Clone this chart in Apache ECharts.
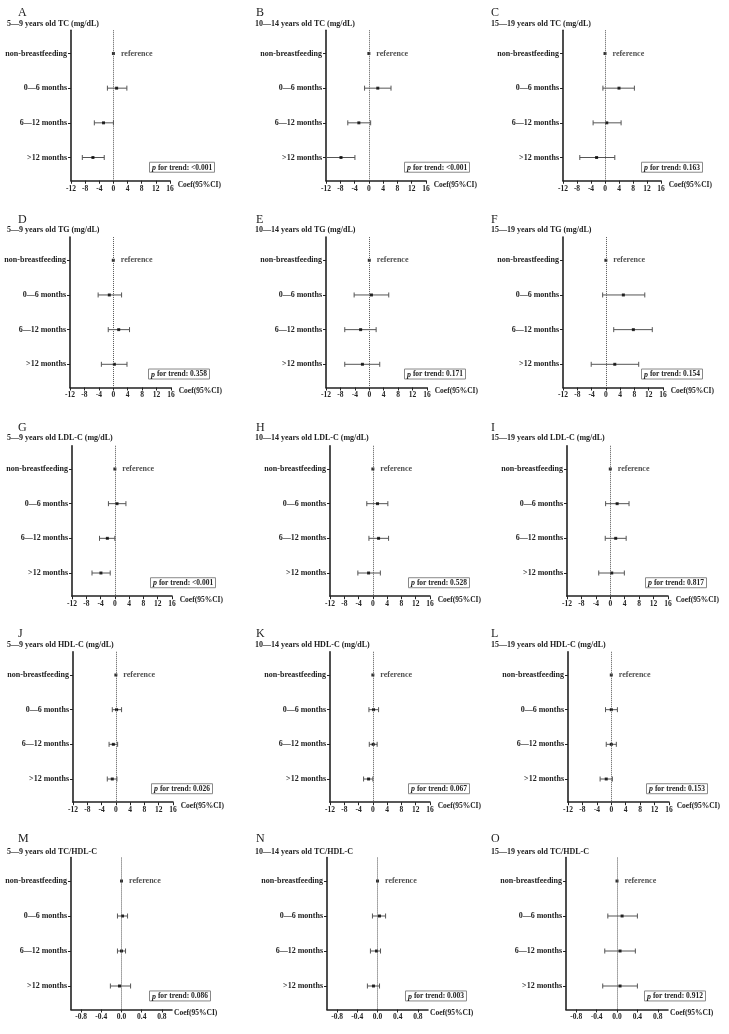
<!DOCTYPE html>
<html>
<head>
<meta charset="utf-8">
<script src="https://cdn.jsdelivr.net/npm/echarts@6/dist/echarts.min.js"></script>
<style>
  html, body { margin: 0; background: #fff; }
  #chart { width: 729px; height: 1034px; }
</style>
</head>
<body>
<div id="chart"></div>
<script>
// categories (top to bottom)
const groups = ['non-breastfeeding', '0\u20146 months', '6\u201412 months', '>12 months'];
const ages = ['5\u20149', '10\u201414', '15\u201419'];
const outcomes = ['TC (mg/dL)', 'TG (mg/dL)', 'LDL-C (mg/dL)', 'HDL-C (mg/dL)', 'TC/HDL-C'];
const letters = ['A', 'B', 'C', 'D', 'E', 'F', 'G', 'H', 'I', 'J', 'K', 'L', 'M', 'N', 'O'];

// [coef, lower, upper] for 0-6, 6-12, >12 months (non-breastfeeding = reference 0)
const tc5_9 = [[0.9, -1.7, 3.8], [-2.8, -5.4, 0.0], [-5.8, -8.8, -2.6]];
const tc10_14 = [[2.5, -1.2, 6.2], [-2.8, -5.9, 0.5], [-7.8, -11.9, -3.9]];
const tc15_19 = [[4.0, -0.6, 8.4], [0.5, -3.4, 4.6], [-2.4, -7.2, 2.8]];
const tg5_9 = [[-1.1, -4.2, 2.3], [1.5, -1.4, 4.5], [0.3, -3.3, 3.8]];
const tg10_14 = [[0.6, -4.2, 5.4], [-2.4, -6.8, 1.9], [-1.9, -6.8, 2.9]];
const tg15_19 = [[4.9, -0.9, 10.9], [7.7, 2.2, 13.0], [2.5, -4.1, 9.2]];
const ldl5_9 = [[0.6, -1.8, 3.1], [-2.1, -4.3, 0.0], [-3.9, -6.4, -1.3]];
const ldl10_14 = [[1.3, -1.7, 4.2], [1.6, -1.1, 4.4], [-1.2, -4.2, 2.1]];
const ldl15_19 = [[1.9, -1.3, 5.2], [1.5, -1.4, 4.4], [0.4, -3.2, 3.9]];
const hdl5_9 = [[0.2, -1.0, 1.6], [-0.7, -1.9, 0.5], [-1.0, -2.4, 0.3]];
const hdl10_14 = [[0.2, -1.1, 1.6], [0.1, -1.0, 1.2], [-1.2, -2.6, 0.0]];
const hdl15_19 = [[0.0, -1.6, 1.7], [0.0, -1.4, 1.4], [-1.4, -3.1, 0.3]];
const ratio5_9 = [[0.02, -0.08, 0.12], [0.0, -0.08, 0.08], [-0.04, -0.22, 0.18]];
const ratio10_14 = [[0.04, -0.1, 0.16], [-0.02, -0.14, 0.06], [-0.08, -0.2, 0.04]];
const ratio15_19 = [[0.1, -0.18, 0.4], [0.06, -0.24, 0.36], [0.06, -0.28, 0.4]];

const pTrend = ['<0.001', '<0.001', '0.163', '0.358', '0.171', '0.154', '<0.001', '0.528', '0.817',
  '0.026', '0.067', '0.153', '0.086', '0.003', '0.912'];

// x axis ticks
const mgTicks = [-12, -8, -4, 0, 4, 8, 12, 16];
const ratioTicks = [-0.8, -0.4, 0, 0.4, 0.8];

const panels = [tc5_9, tc10_14, tc15_19, tg5_9, tg10_14, tg15_19, ldl5_9, ldl10_14, ldl15_19,
  hdl5_9, hdl10_14, hdl15_19, ratio5_9, ratio10_14, ratio15_19];

// layout (px)
const axisLeft = [[71, 326, 563], [70, 326, 563], [72, 330, 567], [73, 330, 568], [71, 327, 566]];
const axisRight = [[170, 426, 661], [171, 427, 663], [172, 430, 668], [173, 430, 669], [172, 428, 668]];
const rowFirst = [53.5, 260.3, 469, 675, 881];
const rowLast = [157.5, 364.3, 573, 779, 986];
const letterX = [18, 256, 491];
const letterY = [7, 214, 422, 628, 833];
const headX = [7, 255, 491];
const headY = [20, 226, 434, 641, 848];

const FONT = 'Liberation Serif';
const INK = '#222';
const Y_MIN = 0.33, Y_MAX = 4.67;

const grid = [], xAxis = [], yAxis = [], series = [], title = [];

function renderBar(params, api) {
  const pos = api.value(0);
  const a = api.coord([api.value(1), pos]);
  const b = api.coord([api.value(2), pos]);
  const style = { stroke: '#555', lineWidth: 1 };
  const c = 2.5;
  return {
    type: 'group',
    children: [
      { type: 'line', shape: { x1: a[0], y1: a[1], x2: b[0], y2: b[1] }, style },
      { type: 'line', shape: { x1: a[0], y1: a[1] - c, x2: a[0], y2: a[1] + c }, style },
      { type: 'line', shape: { x1: b[0], y1: b[1] - c, x2: b[0], y2: b[1] + c }, style }
    ]
  };
}

panels.forEach((rows, i) => {
  const r = Math.floor(i / 3), c = i % 3;
  const unit = (rowLast[r] - rowFirst[r]) / 3;
  const top = rowFirst[r] - (1 - Y_MIN) * unit;
  const height = (Y_MAX - Y_MIN) * unit;
  const left = axisLeft[r][c];
  const width = axisRight[r][c] - left;
  const isRatio = r === 4;

  grid.push({ left, top, width, height, containLabel: false, outerBoundsMode: 'none' });

  xAxis.push({
    gridIndex: i, type: 'value',
    min: isRatio ? -1 : -12, max: isRatio ? 1 : 16,
    splitLine: { show: false },
    axisLine: { onZero: false, lineStyle: { color: INK, width: 1.6 } },
    axisTick: { length: 3, lineStyle: { color: INK }, customValues: isRatio ? ratioTicks : mgTicks },
    axisLabel: {
      customValues: isRatio ? ratioTicks : mgTicks,
      formatter: v => isRatio ? v.toFixed(1) : String(v),
      fontFamily: FONT, fontWeight: 'bold', fontSize: 7.5, color: INK, margin: 4
    },
    name: 'Coef(95%CI)', nameLocation: 'end', nameGap: 2,
    nameTextStyle: { fontFamily: FONT, fontWeight: 'bold', fontSize: 7.5, color: INK, align: 'left', verticalAlign: 'top' }
  });

  yAxis.push({
    gridIndex: i, type: 'value', inverse: true, min: Y_MIN, max: Y_MAX,
    splitLine: { show: false },
    axisLine: { show: true, onZero: false, lineStyle: { color: INK, width: 1.6 } },
    axisTick: { show: true, length: 3, lineStyle: { color: INK }, customValues: [1, 2, 3, 4] },
    axisLabel: {
      customValues: [1, 2, 3, 4],
      formatter: v => groups[Math.round(v) - 1],
      fontFamily: FONT, fontWeight: 'bold', fontSize: 8, color: INK, margin: 4
    }
  });

  series.push({
    type: 'custom', xAxisIndex: i, yAxisIndex: i, silent: true,
    renderItem: renderBar,
    encode: { x: [1, 2], y: 0 },
    data: rows.map((d, k) => [k + 2, d[1], d[2]])
  });

  series.push({
    type: 'scatter', xAxisIndex: i, yAxisIndex: i, silent: true,
    symbol: 'rect', symbolSize: 3, itemStyle: { color: '#000' },
    data: [
      { value: [0, 1], label: { show: true, formatter: 'reference', position: 'right', distance: 6,
        fontFamily: FONT, fontWeight: 'bold', fontSize: 8, color: INK } }
    ].concat(rows.map((d, k) => [d[0], k + 2])),
    markLine: {
      silent: true, symbol: 'none', label: { show: false },
      lineStyle: { type: 'dotted', color: '#555', width: 1 },
      data: [{ xAxis: 0 }]
    }
  });

  title.push({
    text: letters[i], left: letterX[c], top: letterY[r], padding: 0,
    textStyle: { fontFamily: FONT, fontWeight: 'normal', fontSize: 12, color: INK }
  });
  title.push({
    text: ages[c] + ' years old ' + outcomes[r], left: headX[c], top: headY[r], padding: 0,
    textStyle: { fontFamily: FONT, fontWeight: 'bold', fontSize: 8, color: INK }
  });
  title.push({
    text: '{i|p} for trend: ' + pTrend[i],
    left: left + 78, top: top + height - 19,
    padding: [2, 3, 1, 3], borderWidth: 1, borderColor: '#888',
    textStyle: {
      fontFamily: FONT, fontWeight: 'bold', fontSize: 7.5, color: INK,
      rich: { i: { fontFamily: FONT, fontWeight: 'bold', fontStyle: 'italic', fontSize: 8, color: INK } }
    }
  });
});

const chart = echarts.init(document.getElementById('chart'), null, { renderer: 'canvas' });
chart.setOption({
  animation: false,
  backgroundColor: '#fff',
  title, grid, xAxis, yAxis, series
});
</script>
</body>
</html>
